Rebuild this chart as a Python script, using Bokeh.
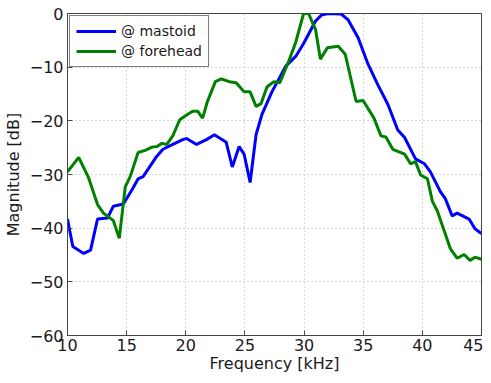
from bokeh.plotting import figure
from bokeh.models import Legend, LegendItem, FixedTicker, Range1d
from bokeh.embed import file_html
from bokeh.resources import INLINE

# --- data ---
freq_mastoid = [10.0, 10.45, 11.37, 11.95, 12.54, 13.38, 13.88, 14.72, 15.47, 15.97, 16.39, 17.48,
                18.07, 18.9, 19.74, 20.07, 20.91, 21.75, 22.42, 23.42, 23.93, 24.51, 24.93, 25.44,
                25.94, 26.44, 27.28, 28.45, 29.29, 29.96, 30.97, 31.47, 32.05, 33.14, 33.73, 34.57,
                35.4, 36.24, 37.08, 37.92, 38.5, 39.42, 40.18, 40.68, 41.52, 41.94, 42.52, 42.94,
                43.95, 44.45, 44.87, 45.0]
mag_mastoid = [-38.3, -43.4, -44.7, -44.1, -38.3, -38.1, -35.9, -35.5, -32.8, -30.8, -30.4, -26.8,
               -25.3, -24.4, -23.5, -23.3, -24.4, -23.5, -22.6, -24.0, -28.6, -24.8, -26.2, -31.5,
               -22.6, -18.8, -14.6, -9.8, -8.0, -5.6, -1.4, -0.3, 0.0, -0.1, -1.2, -4.5,
               -9.4, -13.3, -16.9, -21.7, -23.1, -27.1, -28.0, -29.5, -33.2, -34.5, -37.7, -37.2,
               -38.3, -40.1, -40.8, -41.0]

freq_forehead = [10.0, 10.95, 11.78, 12.54, 13.04, 13.88, 14.38, 14.88, 15.3, 15.97, 16.56, 17.14,
                 17.56, 17.98, 18.4, 18.9, 19.49, 20.07, 20.58, 21.0, 21.42, 21.83, 22.5, 23.0,
                 23.68, 24.26, 24.93, 25.44, 25.94, 26.36, 26.86, 27.45, 27.95, 28.7, 29.29, 29.96,
                 30.38, 30.97, 31.38, 31.97, 32.89, 33.48, 34.4, 34.99, 35.91, 36.5, 36.92, 37.5,
                 38.5, 39.0, 39.42, 39.85, 40.43, 40.85, 41.27, 42.36, 42.94, 43.53, 44.03, 44.45,
                 45.0]
mag_forehead = [-29.5, -26.8, -30.6, -35.6, -37.2, -38.6, -41.9, -32.3, -30.4, -25.9, -25.5, -24.9,
                -24.8, -24.2, -24.4, -22.8, -19.8, -18.9, -18.2, -18.2, -19.5, -16.4, -12.7, -12.2,
                -12.7, -12.9, -14.6, -14.6, -17.3, -16.8, -13.7, -12.7, -12.9, -8.9, -5.4, 0.0,
                0.0, -3.0, -8.5, -6.4, -6.1, -7.6, -16.4, -16.2, -19.5, -22.8, -23.0, -25.3,
                -26.2, -28.0, -27.6, -30.1, -30.8, -35.0, -36.8, -43.8, -45.6, -44.9, -46.0, -45.4,
                -45.8]

x_ticks = [10, 15, 20, 25, 30, 35, 40, 45]
y_ticks = [-60, -50, -40, -30, -20, -10, 0]
labels = ["@ mastoid", "@ forehead"]
colors = ["#0000ff", "#008000"]

FONT = "DejaVu Sans"
TXT = "#1a1a1a"
AXC = "#444444"

p = figure(width=483, height=375, output_backend="svg", toolbar_location=None,
           x_range=Range1d(10, 45), y_range=Range1d(-60, 0),
           min_border_left=67, min_border_right=2, min_border_top=13, min_border_bottom=39)
p.outline_line_color = AXC
p.outline_line_width = 1

r1 = p.line(freq_mastoid, mag_mastoid, line_color=colors[0], line_width=3)
r2 = p.line(freq_forehead, mag_forehead, line_color=colors[1], line_width=3)

for ax in (p.xaxis[0], p.yaxis[0]):
    ax.major_tick_in = 5
    ax.major_tick_out = 0
    ax.minor_tick_in = 0
    ax.minor_tick_out = 0
    ax.axis_line_color = AXC
    ax.major_tick_line_color = AXC
    ax.major_label_text_font = FONT
    ax.major_label_text_font_size = "16px"
    ax.major_label_text_color = TXT
    ax.axis_label_text_font = FONT
    ax.axis_label_text_font_size = "16px"
    ax.axis_label_text_font_style = "normal"
    ax.axis_label_text_color = TXT

p.xaxis[0].ticker = FixedTicker(ticks=x_ticks)
p.yaxis[0].ticker = FixedTicker(ticks=y_ticks)
p.xaxis[0].axis_label = "Frequency [kHz]"
p.yaxis[0].axis_label = "Magnitude [dB]"
p.xaxis[0].major_label_standoff = 3
p.xaxis[0].axis_label_standoff = 0
p.yaxis[0].major_label_standoff = 4
p.yaxis[0].axis_label_standoff = 4

p.xgrid.ticker = FixedTicker(ticks=x_ticks)
p.ygrid.ticker = FixedTicker(ticks=y_ticks)
for g in (p.xgrid[0], p.ygrid[0]):
    g.grid_line_color = "#b0b0b0"
    g.grid_line_dash = "1 3"
    g.grid_line_width = 1

legend = Legend(items=[LegendItem(label=labels[0], renderers=[r1]),
                       LegendItem(label=labels[1], renderers=[r2])],
                location="top_left")
legend.label_text_font = FONT
legend.label_text_font_size = "14px"
legend.label_text_color = TXT
legend.border_line_color = "#000000"
legend.border_line_width = 1
legend.background_fill_color = "white"
legend.background_fill_alpha = 1
legend.glyph_width = 40
legend.glyph_height = 18
legend.label_standoff = 5
legend.spacing = 2
legend.padding = 6
legend.margin = 2
p.add_layout(legend)

open("out.html", "w").write(file_html(p, INLINE))
